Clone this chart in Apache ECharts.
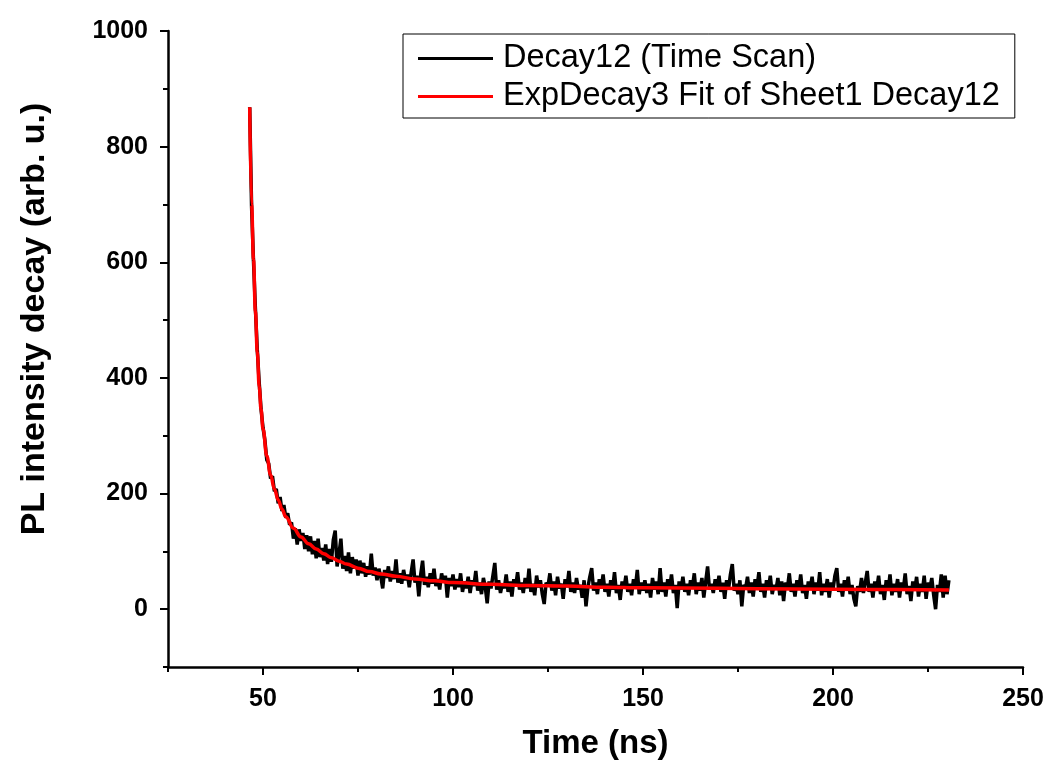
<!DOCTYPE html>
<html>
<head>
<meta charset="utf-8">
<script src="https://cdn.jsdelivr.net/npm/echarts@6/dist/echarts.min.js"></script>
<style>
html, body { margin: 0; padding: 0; background: #fff; }
#chart { width: 1049px; height: 766px; }
</style>
</head>
<body>
<div id="chart"></div>
<script>
// measured decay, sampled every 0.5 ns from 46.5 ns
var decayStart = 46.5;
var decayStep = 0.5;
var decayValues = [
    868, 695, 602, 520, 448, 392, 345, 314, 292, 258,
    252, 226, 230, 204, 208, 183, 194, 170, 180, 158,
    166, 146, 150, 122, 140, 112, 138, 118, 132, 104,
    128, 100, 126, 95, 118, 88, 122, 90, 106, 84,
    112, 78, 104, 82, 120, 136, 74, 96, 122, 70,
    92, 66, 98, 62, 90, 70, 86, 58,
    // 75.5 - 100
    84, 62, 80, 56, 74, 60, 96, 58, 72, 50,
    70, 56, 36, 68, 54, 74, 48, 66, 52, 86,
    46, 62, 44, 68, 50, 60, 38, 64, 86, 46,
    58, 22, 60, 84, 42, 56, 38, 62, 44, 70,
    40, 52, 34, 62, 46, 58, 20, 54, 40, 60,
    // 100.5 - 150
    34, 52, 38, 62, 30, 48, 36, 56, 28, 50,
    40, 66, 32, 46, 26, 54, 38, 10, 48, 36,
    58, 80, 34, 50, 28, 44, 36, 60, 30, 48,
    22, 52, 40, 64, 34, 46, 28, 54, 36, 70,
    30, 44, 24, 58, 38, 50, 26, 9, 46, 40,
    62, 32, 48, 24, 56, 36, 44, 18, 52, 38,
    66, 30, 46, 28, 54, 34, 42, 20, 50, 5,
    38, 56, 71, 32, 46, 26, 52, 36, 60, 30,
    44, 22, 50, 34, 64, 28, 42, 16, 48, 36,
    58, 30, 44, 24, 52, 38, 68, 26, 46, 32,
    // 150.5 - 200
    50, 28, 44, 20, 54, 34, 48, 26, 71, 30,
    46, 22, 52, 36, 60, 28, 42, 2, 48, 34,
    56, 30, 44, 24, 50, 38, 62, 26, 46, 32,
    54, 20, 48, 74, 34, 44, 28, 52, 36, 58,
    30, 46, 18, 50, 34, 60, 78, 32, 44, 26,
    50, 5, 42, 36, 56, 28, 46, 22, 52, 38,
    64, 30, 44, 20, 50, 36, 58, 26, 42, 34,
    54, 24, 48, 14, 46, 36, 62, 30, 44, 22,
    50, 34, 60, 28, 42, 18, 48, 36, 56, 26,
    46, 32, 64, 24, 44, 30, 52, 20, 46, 34,
    // 200.5 - 230.5
    58, 71, 30, 44, 22, 50, 32, 56, 26, 42,
    18, 5, 40, 30, 54, 28, 46, 66, 30, 44,
    20, 48, 34, 58, 26, 42, 16, 50, 32, 60,
    24, 44, 30, 52, 20, 46, 34, 62, 26, 40,
    14, 48, 32, 56, 22, 44, 30, 58, 18, 46,
    36, 54, 24, 0, 42, 30, 60, 20, 58, 26,
    50
];

// ExpDecay3 fit curve
var fitTime  = [46.5, 47, 47.5, 48, 48.5, 49, 49.5, 50, 51, 52, 53, 54, 55, 56, 58, 60, 62, 64, 66, 68,
                70, 72, 75, 78, 81, 85, 90, 95, 100, 110, 120, 130, 140, 150, 170, 190, 210, 230.5];
var fitValue = [868, 700, 605, 515, 445, 385, 345, 312, 265, 232, 208, 189, 173, 160, 140, 125, 113, 104, 96, 89,
                83, 78, 71, 65, 61, 57, 52, 49, 46, 43, 41, 40, 38, 37, 36, 35, 34, 33];

var xMajor = [50, 100, 150, 200, 250];
var xMinor = [25, 75, 125, 175, 225];
var yMajor = [0, 200, 400, 600, 800, 1000];
var yMinor = [-100, 100, 300, 500, 700, 900];

var decayData = [];
for (var i = 0; i < decayValues.length; i++) {
    decayData.push([decayStart + i * decayStep, decayValues[i]]);
}
var fitData = [];
for (var j = 0; j < fitTime.length; j++) {
    fitData.push([fitTime[j], fitValue[j]]);
}

var fontFam = '"Liberation Sans", Arial, sans-serif';
var labelStyle = { color: '#000', fontFamily: fontFam, fontWeight: 'bold', fontSize: 25 };
var plain = function (v) { return String(v); };

var chart = echarts.init(document.getElementById('chart'));
var option = {
    animation: false,
    backgroundColor: '#fff',
    grid: { left: 168, right: 26, top: 31, bottom: 99 },
    legend: {
        orient: 'vertical',
        left: 403,
        top: 34,
        padding: [8, 15, 5, 15],
        itemGap: 5,
        itemWidth: 75,
        itemHeight: 3,
        icon: 'rect',
        borderColor: '#000',
        borderWidth: 1,
        textStyle: { color: '#000', fontFamily: fontFam, fontSize: 32.5, padding: [0, 0, 0, 5] },
        data: ['Decay12 (Time Scan)', 'ExpDecay3 Fit of Sheet1 Decay12']
    },
    xAxis: [
        {
            type: 'value', min: 25, max: 250,
            name: 'Time (ns)', nameLocation: 'middle', nameGap: 60,
            nameTextStyle: { color: '#000', fontFamily: fontFam, fontWeight: 'bold', fontSize: 33 },
            axisLine: { onZero: false, lineStyle: { color: '#000', width: 2.5 } },
            axisTick: { customValues: xMajor, length: 8, lineStyle: { color: '#000', width: 2 } },
            axisLabel: Object.assign({ customValues: xMajor, margin: 20, formatter: plain }, labelStyle),
            splitLine: { show: false }
        },
        {
            type: 'value', min: 25, max: 250, position: 'bottom', offset: 0,
            axisLine: { show: false, onZero: false },
            axisTick: { customValues: xMinor, length: 5, lineStyle: { color: '#000', width: 2 } },
            axisLabel: { show: false },
            splitLine: { show: false }
        }
    ],
    yAxis: [
        {
            type: 'value', min: -100, max: 1000,
            name: 'PL intensity decay (arb. u.)', nameLocation: 'middle', nameGap: 116,
            nameTextStyle: { color: '#000', fontFamily: fontFam, fontWeight: 'bold', fontSize: 34, padding: [0, 0, 0, 60] },
            axisLine: { show: true, onZero: false, lineStyle: { color: '#000', width: 2.5 } },
            axisTick: { show: true, customValues: yMajor, length: 8, lineStyle: { color: '#000', width: 2 } },
            axisLabel: Object.assign({ customValues: yMajor, margin: 20, formatter: plain }, labelStyle),
            splitLine: { show: false }
        },
        {
            type: 'value', min: -100, max: 1000, position: 'left', offset: 0,
            axisLine: { show: false, onZero: false },
            axisTick: { show: true, customValues: yMinor, length: 5, lineStyle: { color: '#000', width: 2 } },
            axisLabel: { show: false },
            splitLine: { show: false }
        }
    ],
    series: [
        {
            name: 'Decay12 (Time Scan)',
            type: 'line',
            data: decayData,
            showSymbol: false,
            symbol: 'none',
            color: '#000',
            lineStyle: { color: '#000', width: 3.5 }
        },
        {
            name: 'ExpDecay3 Fit of Sheet1 Decay12',
            type: 'line',
            data: fitData,
            showSymbol: false,
            symbol: 'none',
            smooth: 0.4,
            smoothMonotone: 'x',
            color: '#ff0000',
            lineStyle: { color: '#ff0000', width: 3.5 }
        }
    ]
};
chart.setOption(option);
</script>
</body>
</html>
